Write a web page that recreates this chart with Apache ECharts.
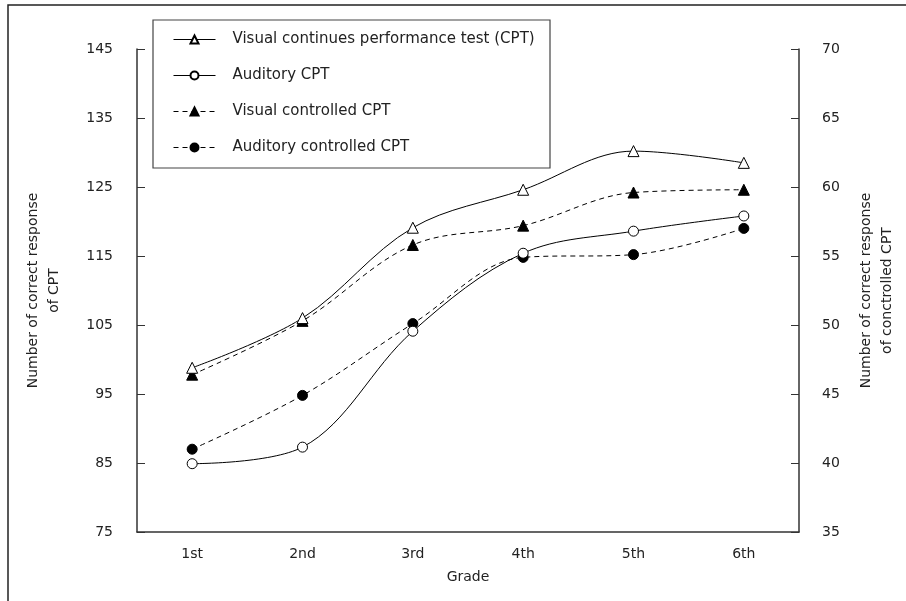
<!DOCTYPE html>
<html>
<head>
<meta charset="utf-8">
<script src="https://cdn.jsdelivr.net/npm/echarts@6/dist/echarts.min.js"></script>
<style>
  html, body { margin: 0; padding: 0; background: #fff; }
  #chart { width: 906px; height: 601px; }
</style>
</head>
<body>
<div id="chart"></div>
<script>
// Grades on the x axis
const grades = ['1st', '2nd', '3rd', '4th', '5th', '6th'];

// Correct responses of CPT (left axis)
const visualCPT = [98.8, 106.0, 119.1, 124.6, 130.2, 128.5];
const auditoryCPT = [84.9, 87.3, 104.1, 115.4, 118.6, 120.8];

// Correct responses of controlled CPT (right axis)
const visualControlled = [46.4, 50.3, 55.8, 57.2, 59.6, 59.8];
const auditoryControlled = [41.0, 44.9, 50.1, 54.9, 55.1, 57.0];

// Series names
const names = [
  'Visual continues performance test (CPT)',
  'Auditory CPT',
  'Visual controlled CPT',
  'Auditory controlled CPT'
];

// Axis ranges
const leftRange = { min: 75, max: 145, step: 10 };
const rightRange = { min: 35, max: 70, step: 5 };

const FONT = 'DejaVu Sans';
const INK = '#222';

const chart = echarts.init(document.getElementById('chart'), null, { renderer: 'canvas' });

function lineSeries(name, data, axisIndex, symbol, filled, dashed) {
  return {
    name: name,
    type: 'line',
    data: data,
    yAxisIndex: axisIndex,
    smooth: 0.35,
    symbol: symbol,
    symbolSize: symbol === 'triangle' ? 11 : 10,
    showAllSymbol: true,
    lineStyle: { color: '#000', width: 1, type: dashed ? [5, 4] : 'solid' },
    itemStyle: { color: filled ? '#000' : '#fff', borderColor: '#000', borderWidth: 1 },
    emphasis: { disabled: true },
    z: filled ? 3 : 4
  };
}

chart.setOption({
  animation: false,
  backgroundColor: '#fff',
  textStyle: { fontFamily: FONT, color: INK },
  grid: { left: 137, right: 106, top: 49, bottom: 69, containLabel: false },
  graphic: [
    // outer frame
    { type: 'rect', shape: { x: 8, y: 5, width: 1000, height: 1000 },
      style: { fill: 'none', stroke: '#222', lineWidth: 1.5 }, silent: true },
    // legend box
    { type: 'rect', shape: { x: 153, y: 20, width: 397, height: 148 },
      style: { fill: '#fff', stroke: '#444', lineWidth: 1.2 }, silent: true, z: 5 }
  ],
  legend: {
    orient: 'vertical',
    left: 173,
    top: 32,
    padding: 0,
    itemWidth: 42,
    itemHeight: 10,
    itemGap: 21,
    z: 10,
    lineStyle: { width: 1 },
    textStyle: { fontFamily: FONT, fontSize: 15, color: INK, padding: [0, 0, 0, 12] },
    data: names
  },
  xAxis: {
    type: 'category',
    data: grades,
    boundaryGap: true,
    name: 'Grade',
    nameLocation: 'middle',
    nameGap: 38,
    nameTextStyle: { fontFamily: FONT, fontSize: 14, color: INK },
    axisLine: { lineStyle: { color: '#333', width: 1.5 } },
    axisTick: { inside: true, length: 8, lineStyle: { color: '#333', width: 1 } },
    axisLabel: { fontFamily: FONT, fontSize: 14, color: INK, margin: 15 },
    splitLine: { show: false }
  },
  yAxis: [
    {
      type: 'value',
      position: 'left',
      min: leftRange.min,
      max: leftRange.max,
      interval: leftRange.step,
      name: 'Number of correct response\nof CPT',
      nameLocation: 'middle',
      nameRotate: 90,
      nameGap: 72,
      nameTextStyle: { fontFamily: FONT, fontSize: 14, color: INK, lineHeight: 21, align: 'center' },
      axisLine: { show: true, lineStyle: { color: '#333', width: 1.5 } },
      axisTick: { show: true, inside: true, length: 8, lineStyle: { color: '#333', width: 1 } },
      axisLabel: { fontFamily: FONT, fontSize: 14, color: INK, margin: 24 },
      splitLine: { show: false }
    },
    {
      type: 'value',
      position: 'right',
      min: rightRange.min,
      max: rightRange.max,
      interval: rightRange.step,
      name: 'Number of correct response\nof conctrolled CPT',
      nameLocation: 'middle',
      nameRotate: 90,
      nameGap: 57,
      nameTextStyle: { fontFamily: FONT, fontSize: 14, color: INK, lineHeight: 21, align: 'center' },
      axisLine: { show: true, lineStyle: { color: '#333', width: 1.5 } },
      axisTick: { show: true, inside: true, length: 8, lineStyle: { color: '#333', width: 1 } },
      axisLabel: { fontFamily: FONT, fontSize: 14, color: INK, margin: 23 },
      splitLine: { show: false }
    }
  ],
  series: [
    lineSeries(names[0], visualCPT, 0, 'triangle', false, false),
    lineSeries(names[1], auditoryCPT, 0, 'circle', false, false),
    lineSeries(names[2], visualControlled, 1, 'triangle', true, true),
    lineSeries(names[3], auditoryControlled, 1, 'circle', true, true)
  ]
});
</script>
</body>
</html>
